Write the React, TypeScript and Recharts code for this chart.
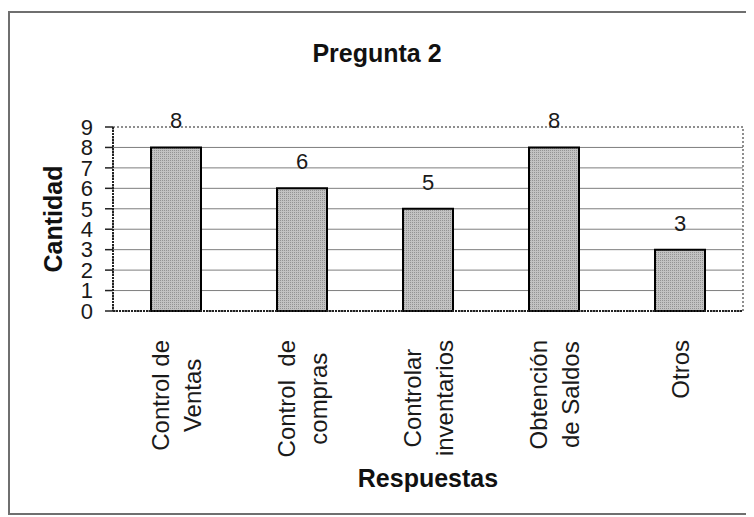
import React from 'react';
import { BarChart, Bar, XAxis, YAxis, CartesianGrid, LabelList, ReferenceArea } from 'recharts';

const categories = ['Control de|Ventas', 'Control  de|compras', 'Controlar|inventarios', 'Obtención|de Saldos', 'Otros'];
const counts = [8, 6, 5, 8, 3];
const yTicks = [0, 1, 2, 3, 4, 5, 6, 7, 8, 9];
const gridValues = [1, 2, 3, 4, 5, 6, 7, 8];
const edgeTicks = [0, 1, 2, 3, 4, 5];

const data = categories.map((name, i) => ({ name, value: counts[i] }));

const FONT = "'Liberation Sans', Arial, sans-serif";
const LABEL_SIZE = 24;

let ctx: CanvasRenderingContext2D | null = null;
function textWidth(s: string) {
  if (!ctx) ctx = document.createElement('canvas').getContext('2d');
  if (!ctx) return s.length * LABEL_SIZE * 0.5;
  ctx.font = `${LABEL_SIZE}px ${FONT}`;
  return ctx.measureText(s).width;
}

// rotated two-line category labels, block hangs from the axis, lines centred
function CategoryTick(props: any) {
  const { x, y, payload } = props;
  const lines = String(payload.value).split('|');
  const maxW = Math.max(...lines.map(textWidth));
  const cy = y + 21 + maxW / 2;
  return (
    <g>
      {lines.map((line, i) => {
        const lx = x + 9 + (i - (lines.length - 1) / 2) * 32;
        return (
          <text
            key={i}
            x={lx}
            y={cy}
            textAnchor="middle"
            transform={`rotate(-90, ${lx}, ${cy})`}
            fontSize={LABEL_SIZE}
            fontFamily={FONT}
            fill="#1a1a1a"
            style={{ whiteSpace: 'pre' }}
          >
            {line}
          </text>
        );
      })}
    </g>
  );
}

export default function App() {
  return (
    <div style={{ position: 'relative', width: 754, height: 517, margin: '-8px 0 0 -8px', overflow: 'hidden', background: '#fff', fontFamily: FONT }}>
      <div style={{ position: 'absolute', left: 8, top: 11, width: 800, height: 504, border: '2px solid #6f6f6f', boxSizing: 'border-box' }} />
      <div style={{ position: 'absolute', left: 0, width: 754, top: 39, textAlign: 'center', fontSize: 25, fontWeight: 'bold', color: '#111' }}>
        Pregunta 2
      </div>
      <div style={{ position: 'absolute', left: 0, top: 0 }}>
        <BarChart width={754} height={517} data={data} margin={{ top: 127, right: 11, left: 43, bottom: 0 }}>
          <defs>
            <pattern id="dots" width="2" height="2" patternUnits="userSpaceOnUse">
              <rect width="2" height="2" fill="#c2c2c2" />
              <rect width="1" height="1" fill="#939393" />
            </pattern>
          </defs>
          <CartesianGrid vertical={false} horizontalValues={gridValues} stroke="#7e7e7e" strokeWidth={1} />
          <ReferenceArea xAxisId="cat" y1={0} y2={9} fill="none" stroke="#6a6a6a" strokeWidth={1.5} strokeDasharray="2 2" />
          <XAxis
            xAxisId="edges"
            type="number"
            domain={[0, 5]}
            ticks={edgeTicks}
            height={0}
            axisLine={false}
            tickLine={{ stroke: '#222', strokeWidth: 1.5 }}
            tickSize={9}
            tickFormatter={() => ''}
          />
          <XAxis
            xAxisId="cat"
            dataKey="name"
            height={206}
            interval={0}
            tickLine={false}
            axisLine={{ stroke: '#222', strokeWidth: 2, strokeDasharray: '2 1' }}
            tick={<CategoryTick />}
            label={{ value: 'Respuestas', position: 'insideBottom', offset: 30, style: { fontSize: 25, fontWeight: 'bold', fill: '#111', fontFamily: FONT } }}
          />
          <YAxis
            width={70}
            domain={[0, 9]}
            ticks={yTicks}
            interval={0}
            tickSize={8}
            tickMargin={12}
            axisLine={{ stroke: '#222', strokeWidth: 2, strokeDasharray: '2 1' }}
            tickLine={{ stroke: '#222', strokeWidth: 1.5 }}
            tick={{ fontSize: 22, fill: '#1a1a1a', fontFamily: FONT }}
            label={{ value: 'Cantidad', angle: -90, position: 'insideLeft', offset: 10, style: { textAnchor: 'middle', fontSize: 25, fontWeight: 'bold', fill: '#111', fontFamily: FONT } }}
          />
          <Bar xAxisId="cat" dataKey="value" barSize={50} fill="url(#dots)" stroke="#000" strokeWidth={2} isAnimationActive={false}>
            <LabelList dataKey="value" position="top" offset={19} style={{ fontSize: 22, fill: '#1a1a1a', fontFamily: FONT }} />
          </Bar>
        </BarChart>
      </div>
    </div>
  );
}
